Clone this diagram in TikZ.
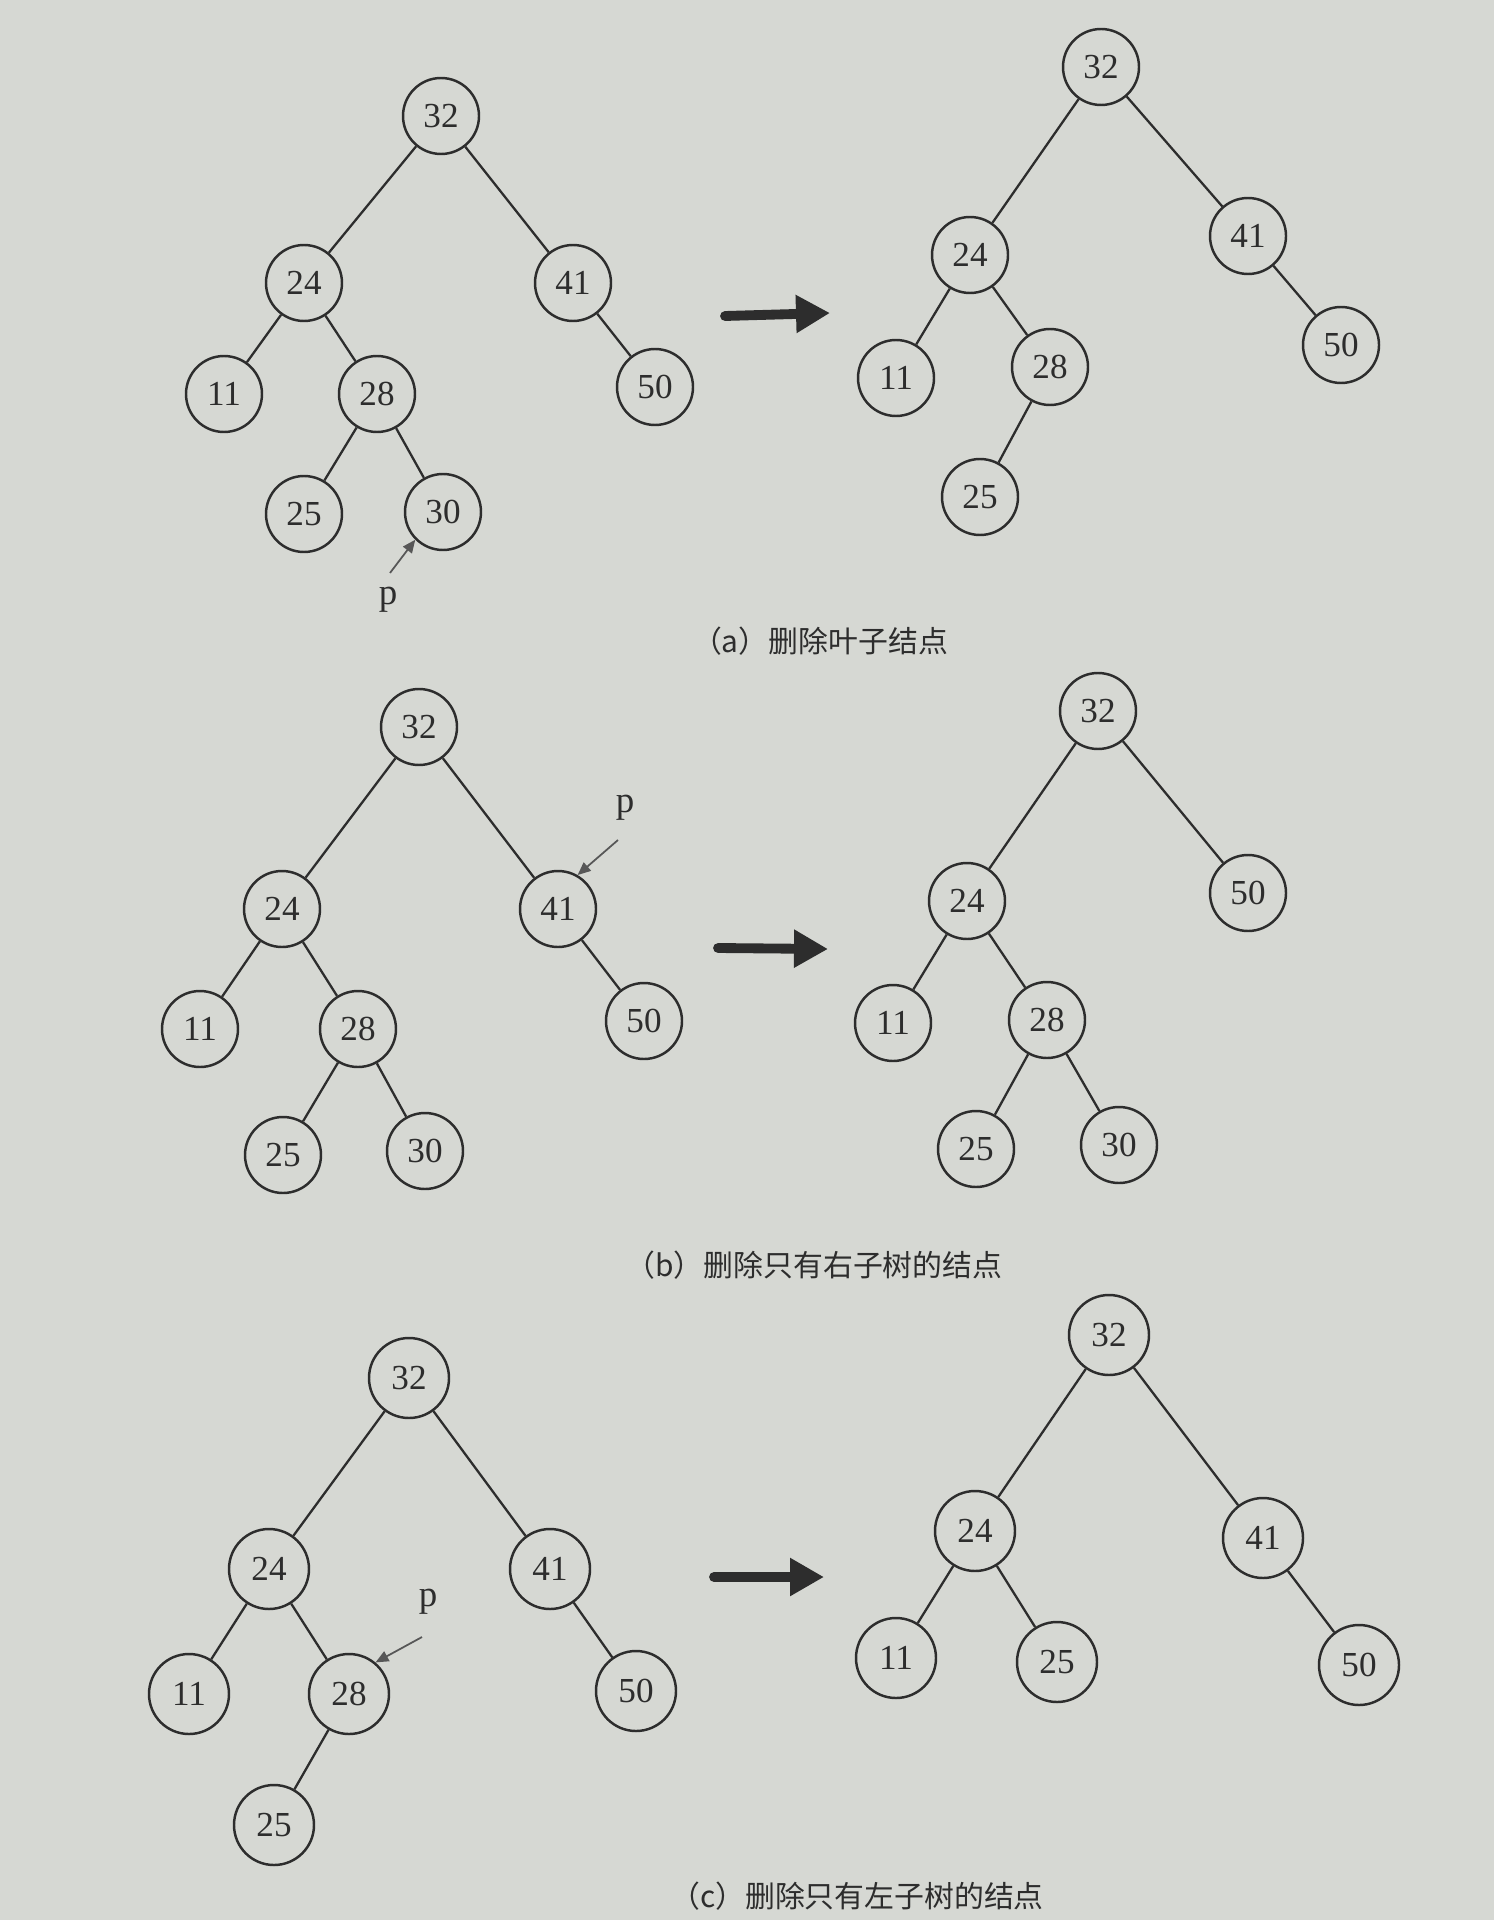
\documentclass[tikz,border=0pt]{standalone}
\usepackage{fontspec}
\setmainfont{Liberation Serif}
\newfontfamily\cjk{Noto Sans CJK SC}
\usetikzlibrary{arrows.meta}
\definecolor{paper}{RGB}{214,216,211}
\definecolor{ink}{RGB}{45,45,45}
\tikzset{
    vertex/.style={draw=ink,circle,line width=0.7pt,minimum size=0.76cm,inner sep=0pt,font=\fontsize{10}{10}\selectfont,text=ink},
    bigvertex/.style={vertex,minimum size=0.80cm},
    edge/.style={draw=ink,line width=0.65pt},
    bigarrow/.style={ink,line width=2.8pt,line cap=round,-{Triangle[length=0.34cm,width=0.36cm]}},
    ptr/.style={ink!80,line width=0.5pt,-{Triangle[length=0.13cm,width=0.11cm]}},
    plabel/.style={font=\fontsize{10.5}{10.5}\selectfont,text=ink},
    caption/.style={font=\cjk\fontsize{8.5}{8.5}\selectfont,text=ink}
}
\begin{document}
\begin{tikzpicture}
    % Page background and size
    \fill[paper] (0,0) rectangle (14.94,-19.20);
    \useasboundingbox (0,0) rectangle (14.94,-19.20);

    % (a) left tree
    \node[vertex] (a32) at (4.41,-1.16) {32};
    \node[vertex] (a24) at (3.04,-2.83) {24};
    \node[vertex] (a41) at (5.73,-2.83) {41};
    \node[vertex] (a11) at (2.24,-3.94) {11};
    \node[vertex] (a28) at (3.77,-3.94) {28};
    \node[vertex] (a50) at (6.55,-3.87) {50};
    \node[vertex] (a25) at (3.04,-5.14) {25};
    \node[vertex] (a30) at (4.43,-5.12) {30};
    \draw[edge] (a32) -- (a24);
    \draw[edge] (a32) -- (a41);
    \draw[edge] (a24) -- (a11);
    \draw[edge] (a24) -- (a28);
    \draw[edge] (a41) -- (a50);
    \draw[edge] (a28) -- (a25);
    \draw[edge] (a28) -- (a30);
    \node[plabel] (ap) at (3.88,-6.00) {p};
    \draw[ptr] (ap.north) ++(0.02,0.02) -- (a30.225);

    % (a) right tree
    \node[vertex] (ar32) at (11.01,-0.67) {32};
    \node[vertex] (ar24) at (9.70,-2.55) {24};
    \node[vertex] (ar41) at (12.48,-2.36) {41};
    \node[vertex] (ar11) at (8.96,-3.78) {11};
    \node[vertex] (ar28) at (10.50,-3.67) {28};
    \node[vertex] (ar50) at (13.41,-3.45) {50};
    \node[vertex] (ar25) at (9.80,-4.97) {25};
    \draw[edge] (ar32) -- (ar24);
    \draw[edge] (ar32) -- (ar41);
    \draw[edge] (ar24) -- (ar11);
    \draw[edge] (ar24) -- (ar28);
    \draw[edge] (ar41) -- (ar50);
    \draw[edge] (ar28) -- (ar25);

    \coordinate (as) at (7.25,-3.16);
    \coordinate (ae) at (8.30,-3.13);
    \draw[bigarrow] (as) -- (ae);
    \node[caption] (acap) at (8.20,-6.41) {（a）删除叶子结点};

    % (b) left tree
    \node[vertex] (b32) at (4.19,-7.27) {32};
    \node[vertex] (b24) at (2.82,-9.09) {24};
    \node[vertex] (b41) at (5.58,-9.09) {41};
    \node[vertex] (b11) at (2.00,-10.29) {11};
    \node[vertex] (b28) at (3.58,-10.29) {28};
    \node[vertex] (b50) at (6.44,-10.21) {50};
    \node[vertex] (b25) at (2.83,-11.55) {25};
    \node[vertex] (b30) at (4.25,-11.51) {30};
    \draw[edge] (b32) -- (b24);
    \draw[edge] (b32) -- (b41);
    \draw[edge] (b24) -- (b11);
    \draw[edge] (b24) -- (b28);
    \draw[edge] (b41) -- (b50);
    \draw[edge] (b28) -- (b25);
    \draw[edge] (b28) -- (b30);
    \node[plabel] (bp) at (6.25,-8.08) {p};
    \coordinate (bq) at (6.18,-8.40);
    \draw[ptr] (bq) -- (b41.60);

    % (b) right tree
    \node[vertex] (br32) at (10.98,-7.11) {32};
    \node[vertex] (br24) at (9.67,-9.01) {24};
    \node[vertex] (br50) at (12.48,-8.93) {50};
    \node[vertex] (br11) at (8.93,-10.23) {11};
    \node[vertex] (br28) at (10.47,-10.20) {28};
    \node[vertex] (br25) at (9.76,-11.49) {25};
    \node[vertex] (br30) at (11.19,-11.45) {30};
    \draw[edge] (br32) -- (br24);
    \draw[edge] (br32) -- (br50);
    \draw[edge] (br24) -- (br11);
    \draw[edge] (br24) -- (br28);
    \draw[edge] (br28) -- (br25);
    \draw[edge] (br28) -- (br30);

    \coordinate (bs) at (7.18,-9.48);
    \coordinate (be) at (8.28,-9.49);
    \draw[bigarrow] (bs) -- (be);
    \node[caption] (bcap) at (8.14,-12.65) {（b）删除只有右子树的结点};

    % (c) left tree
    \node[bigvertex] (c32) at (4.09,-13.78) {32};
    \node[bigvertex] (c24) at (2.69,-15.69) {24};
    \node[bigvertex] (c41) at (5.50,-15.69) {41};
    \node[bigvertex] (c11) at (1.89,-16.94) {11};
    \node[bigvertex] (c28) at (3.49,-16.94) {28};
    \node[bigvertex] (c50) at (6.36,-16.91) {50};
    \node[bigvertex] (c25) at (2.74,-18.25) {25};
    \draw[edge] (c32) -- (c24);
    \draw[edge] (c32) -- (c41);
    \draw[edge] (c24) -- (c11);
    \draw[edge] (c24) -- (c28);
    \draw[edge] (c41) -- (c50);
    \draw[edge] (c28) -- (c25);
    \node[plabel] (cp) at (4.28,-16.02) {p};
    \coordinate (cq) at (4.22,-16.37);
    \draw[ptr] (cq) -- (c28.50);

    % (c) right tree
    \node[bigvertex] (cr32) at (11.09,-13.35) {32};
    \node[bigvertex] (cr24) at (9.75,-15.31) {24};
    \node[bigvertex] (cr41) at (12.63,-15.38) {41};
    \node[bigvertex] (cr11) at (8.96,-16.58) {11};
    \node[bigvertex] (cr25) at (10.57,-16.62) {25};
    \node[bigvertex] (cr50) at (13.59,-16.65) {50};
    \draw[edge] (cr32) -- (cr24);
    \draw[edge] (cr32) -- (cr41);
    \draw[edge] (cr24) -- (cr11);
    \draw[edge] (cr24) -- (cr25);
    \draw[edge] (cr41) -- (cr50);

    \coordinate (cs) at (7.14,-15.77);
    \coordinate (ce) at (8.24,-15.77);
    \draw[bigarrow] (cs) -- (ce);
    \node[caption] (ccap) at (8.57,-18.96) {（c）删除只有左子树的结点};
\end{tikzpicture}
\end{document}
